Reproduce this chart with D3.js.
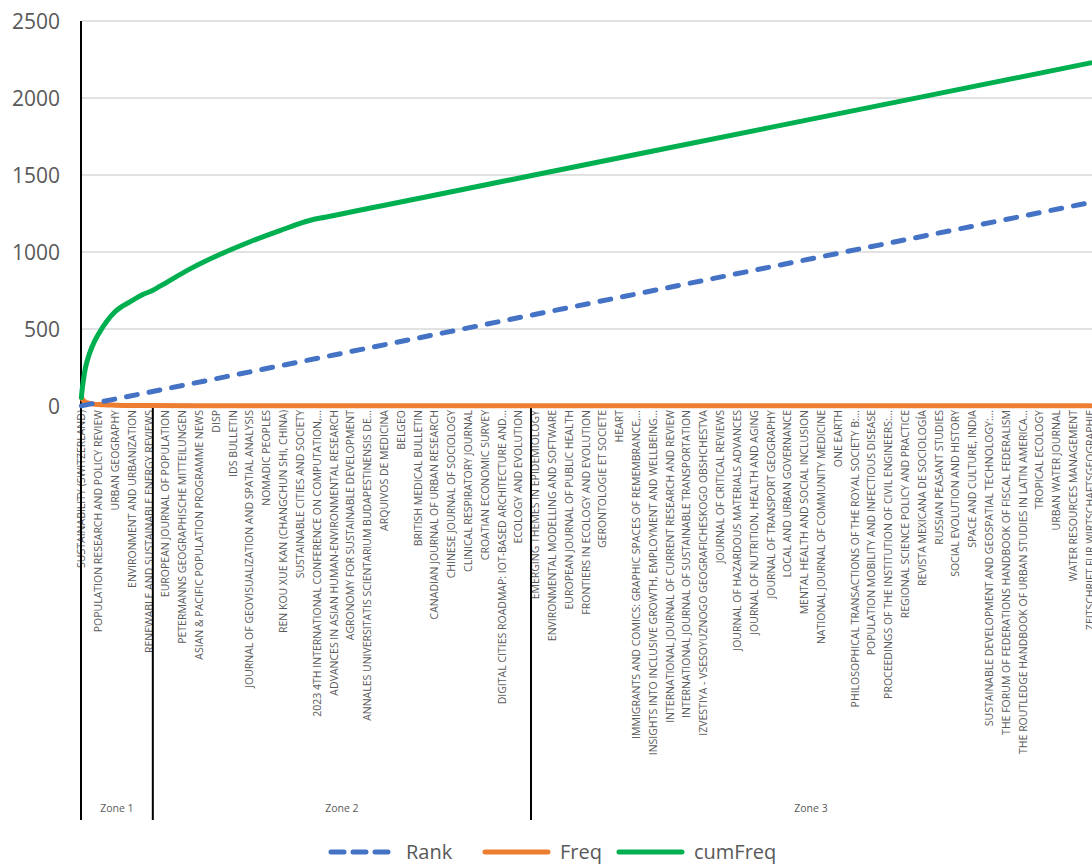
<!DOCTYPE html>
<html>
<head>
<meta charset="utf-8">
<script src="https://cdn.jsdelivr.net/npm/d3@7"></script>
<style>
  html, body { margin: 0; padding: 0; background: #fff; }
  svg { display: block; }
</style>
</head>
<body>
<svg id="chart" width="1092" height="865"></svg>
<script>
// ---------- DATA ----------
const journalCount = 1322;

// Every 22nd journal name shown on the category axis, with its rank
const labelRanks = [1,23,45,67,89,111,133,155,177,199,221,243,265,287,309,331,353,375,397,419,441,463,485,507,529,551,573,595,617,639,661,683,705,727,749,771,793,815,837,859,881,903,925,947,969,991,1013,1035,1057,1079,1101,1123,1145,1167,1189,1211,1233,1255,1277,1299,1321];
const labelNames = [
  "SUSTAINABILITY (SWITZERLAND)",
  "POPULATION RESEARCH AND POLICY REVIEW",
  "URBAN GEOGRAPHY",
  "ENVIRONMENT AND URBANIZATION",
  "RENEWABLE AND SUSTAINABLE ENERGY REVIEWS",
  "EUROPEAN JOURNAL OF POPULATION",
  "PETERMANNS GEOGRAPHISCHE MITTEILUNGEN",
  "ASIAN & PACIFIC POPULATION PROGRAMME NEWS",
  "DISP",
  "IDS BULLETIN",
  "JOURNAL OF GEOVISUALIZATION AND SPATIAL ANALYSIS",
  "NOMADIC PEOPLES",
  "REN KOU XUE KAN (CHANGCHUN SHI, CHINA)",
  "SUSTAINABLE CITIES AND SOCIETY",
  "2023 4TH INTERNATIONAL CONFERENCE ON COMPUTATION,...",
  "ADVANCES IN ASIAN HUMAN-ENVIRONMENTAL RESEARCH",
  "AGRONOMY FOR SUSTAINABLE DEVELOPMENT",
  "ANNALES UNIVERSITATIS SCIENTARIUM BUDAPESTINENSIS DE...",
  "ARQUIVOS DE MEDICINA",
  "BELGEO",
  "BRITISH MEDICAL BULLETIN",
  "CANADIAN JOURNAL OF URBAN RESEARCH",
  "CHINESE JOURNAL OF SOCIOLOGY",
  "CLINICAL RESPIRATORY JOURNAL",
  "CROATIAN ECONOMIC SURVEY",
  "DIGITAL CITIES ROADMAP: IOT-BASED ARCHITECTURE AND...",
  "ECOLOGY AND EVOLUTION",
  "EMERGING THEMES IN EPIDEMIOLOGY",
  "ENVIRONMENTAL MODELLING AND SOFTWARE",
  "EUROPEAN JOURNAL OF PUBLIC HEALTH",
  "FRONTIERS IN ECOLOGY AND EVOLUTION",
  "GERONTOLOGIE ET SOCIETE",
  "HEART",
  "IMMIGRANTS AND COMICS: GRAPHIC SPACES OF REMEMBRANCE,...",
  "INSIGHTS INTO INCLUSIVE GROWTH, EMPLOYMENT AND WELLBEING...",
  "INTERNATIONAL JOURNAL OF CURRENT RESEARCH AND REVIEW",
  "INTERNATIONAL JOURNAL OF SUSTAINABLE TRANSPORTATION",
  "IZVESTIYA - VSESOYUZNOGO GEOGRAFICHESKOGO OBSHCHESTVA",
  "JOURNAL OF CRITICAL REVIEWS",
  "JOURNAL OF HAZARDOUS MATERIALS ADVANCES",
  "JOURNAL OF NUTRITION, HEALTH AND AGING",
  "JOURNAL OF TRANSPORT GEOGRAPHY",
  "LOCAL AND URBAN GOVERNANCE",
  "MENTAL HEALTH AND SOCIAL INCLUSION",
  "NATIONAL JOURNAL OF COMMUNITY MEDICINE",
  "ONE EARTH",
  "PHILOSOPHICAL TRANSACTIONS OF THE ROYAL SOCIETY B:...",
  "POPULATION MOBILITY AND INFECTIOUS DISEASE",
  "PROCEEDINGS OF THE INSTITUTION OF CIVIL ENGINEERS:...",
  "REGIONAL SCIENCE POLICY AND PRACTICE",
  "REVISTA MEXICANA DE SOCIOLOGÍA",
  "RUSSIAN PEASANT STUDIES",
  "SOCIAL EVOLUTION AND HISTORY",
  "SPACE AND CULTURE, INDIA",
  "SUSTAINABLE DEVELOPMENT AND GEOSPATIAL TECHNOLOGY:...",
  "THE FORUM OF FEDERATIONS HANDBOOK OF FISCAL FEDERALISM",
  "THE ROUTLEDGE HANDBOOK OF URBAN STUDIES IN LATIN AMERICA...",
  "TROPICAL ECOLOGY",
  "URBAN WATER JOURNAL",
  "WATER RESOURCES MANAGEMENT",
  "ZEITSCHRIFT FUR WIRTSCHAFTSGEOGRAPHIE"
];

const rankAt      = [1, 1322];
const rankValues  = [1, 1322];

const freqAt      = [1, 2, 3, 4, 6, 9, 15, 24, 35, 45, 65, 94, 147, 302, 1322];
const freqValues  = [55, 48, 40, 34, 27, 20, 14, 9, 7, 5, 3, 3, 2, 1, 1];

const cumAt       = [1, 2, 3, 4, 6, 9, 15, 24, 35, 45, 65, 80, 94, 104, 147, 185, 221, 260, 302, 320, 360, 450, 589, 900, 1322];
const cumValues   = [55, 105, 145, 180, 240, 300, 385, 472, 555, 612, 677, 721, 750, 778, 900, 990, 1065, 1137, 1208, 1226, 1266, 1356, 1495, 1806, 2228];

// Bradford zones: last rank in each zone
const zoneNames = ["Zone 1", "Zone 2", "Zone 3"];
const zoneEnds  = [94, 589, 1322];

const yTicks = [0, 500, 1000, 1500, 2000, 2500];

const seriesNames = ["Rank", "Freq", "cumFreq"];
const seriesColors = ["#4472C4", "#ED7D31", "#00B050"];

// ---------- LAYOUT ----------
const svg = d3.select("#chart");
const plotL = 81, plotR = 1091, plotT = 21, plotB = 406;
const x = d3.scaleLinear().domain([0, journalCount]).range([plotL, plotR]);
const y = d3.scaleLinear().domain([0, 2500]).range([plotB, plotT]);
const cx = r => x(r - 0.5);
const textColor = "#595959";
const fontFam = "'Open Sans', 'Noto Sans', sans-serif";

// gridlines
svg.append("g").selectAll("line").data(yTicks.filter(d => d > 0)).join("line")
  .attr("x1", plotL).attr("x2", 1092)
  .attr("y1", d => y(d)).attr("y2", d => y(d))
  .attr("stroke", "#d9d9d9").attr("stroke-width", 1.3);

// y axis labels
const yAxis = d3.axisLeft(y).tickValues(yTicks).tickSize(0).tickPadding(0).tickFormat(d3.format("d"));
const yg = svg.append("g").attr("transform", `translate(60,0)`).call(yAxis);
yg.select(".domain").remove();
yg.selectAll("text").attr("font-family", fontFam).attr("font-size", 21).attr("fill", textColor).attr("dy", "0.36em");

// category labels
svg.append("g").selectAll("text").data(labelRanks).join("text")
  .attr("transform", (d) => `translate(${cx(d) + 4},${plotB + 4}) rotate(-90)`)
  .attr("text-anchor", "end")
  .attr("font-family", fontFam).attr("font-size", 10.5).attr("fill", textColor)
  .text((d, i) => labelNames[i]);

// zone separators & labels
const zoneStarts = [0].concat(zoneEnds.slice(0, -1));
svg.append("g").selectAll("line").data(zoneStarts).join("line")
  .attr("x1", d => x(d)).attr("x2", d => x(d))
  .attr("y1", (d, i) => i === 0 ? plotT : plotB).attr("y2", 820)
  .attr("stroke", "#000").attr("stroke-width", 2);

svg.append("g").selectAll("text").data(zoneNames).join("text")
  .attr("x", (d, i) => (x(zoneStarts[i]) + x(zoneEnds[i])) / 2)
  .attr("y", 812)
  .attr("text-anchor", "middle")
  .attr("font-family", fontFam).attr("font-size", 10.5).attr("fill", textColor)
  .text(d => d);

// lines
const line = d3.line().x(d => cx(d[0])).y(d => y(d[1])).curve(d3.curveMonotoneX);
const rankData = rankAt.map((r, i) => [r, rankValues[i]]);
const freqData = freqAt.map((r, i) => [r, freqValues[i]]);
const cumData  = cumAt.map((r, i) => [r, cumValues[i]]);

svg.append("path").datum(freqData).attr("d", line)
  .attr("fill", "none").attr("stroke", seriesColors[1]).attr("stroke-width", 5).attr("stroke-linecap", "round").attr("stroke-linejoin", "round");
svg.append("path").datum(rankData).attr("d", line)
  .attr("fill", "none").attr("stroke", seriesColors[0]).attr("stroke-width", 5)
  .attr("stroke-dasharray", "11 12").attr("stroke-linecap", "round");
svg.append("path").datum(cumData).attr("d", line)
  .attr("fill", "none").attr("stroke", seriesColors[2]).attr("stroke-width", 5).attr("stroke-linecap", "round").attr("stroke-linejoin", "round");

// legend
const legendX = [331, 485, 619];
const lg = svg.append("g").selectAll("g").data(seriesNames).join("g")
  .attr("transform", (d, i) => `translate(${legendX[i]},852)`);
lg.append("line").attr("x1", 0).attr("x2", 63).attr("y1", 0).attr("y2", 0)
  .attr("stroke", (d, i) => seriesColors[i]).attr("stroke-width", 5).attr("stroke-linecap", "round")
  .attr("stroke-dasharray", (d, i) => i === 0 ? "13 9" : null);
lg.append("text").attr("x", 75).attr("y", 0).attr("dy", "0.36em")
  .attr("font-family", fontFam).attr("font-size", 20).attr("fill", textColor)
  .text(d => d);
</script>
</body>
</html>
